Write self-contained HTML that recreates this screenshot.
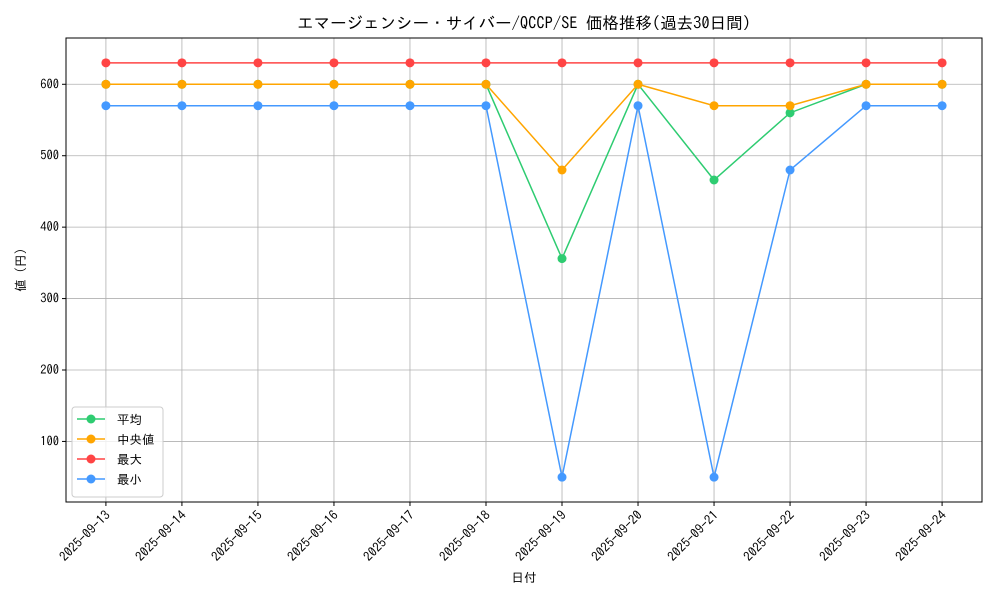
<!DOCTYPE html>
<html><head><meta charset="utf-8"><style>
body{margin:0;background:#fff}
svg text{font-family:"IPAGothic","Liberation Mono","Noto Sans CJK JP",monospace;fill:#000}
</style></head><body>
<svg id="c" width="1000" height="600"></svg>
<script>
const dates=["2025-09-13","2025-09-14","2025-09-15","2025-09-16","2025-09-17","2025-09-18","2025-09-19","2025-09-20","2025-09-21","2025-09-22","2025-09-23","2025-09-24"];
const avgVals=[600,600,600,600,600,600,356,600,466,560,600,600];
const medVals=[600,600,600,600,600,600,480,600,570,570,600,600];
const maxVals=[630,630,630,630,630,630,630,630,630,630,630,630];
const minVals=[570,570,570,570,570,570,50,570,50,480,570,570];
const yTicks=[100,200,300,400,500,600];
const seriesNames=["平均","中央値","最大","最小"];
const NS="http://www.w3.org/2000/svg";
const svg=document.getElementById('c');
const L=66,R=982,T=38,B=502;
const all=[].concat(avgVals,medVals,maxVals,minVals);
const mn=Math.min(...all),mx=Math.max(...all),pad=(mx-mn)*0.06;
const y0=mn-pad,y1=mx+pad;
function sx(i){const n=dates.length;const w=(R-L)/(n-1+1.05);return L+w*0.525+i*w;}
function sy(v){return B-(v-y0)/(y1-y0)*(B-T);}
function el(t,a,p){const e=document.createElementNS(NS,t);for(const k in a)e.setAttribute(k,a[k]);(p||svg).appendChild(e);return e;}
dates.forEach((d,i)=>{
const g=el('line',{x1:sx(i),x2:sx(i),y1:T,y2:B,stroke:'#b0b0b0','stroke-width':0.8});


el('line',{x1:sx(i),x2:sx(i),y1:B,y2:B+4,stroke:'#000'});
const t=el('text',{x:0,y:0,'font-size':13,'text-anchor':'end',transform:`translate(${sx(i)+5},${B+14}) rotate(-45)`});


t.textContent=d;
});
yTicks.forEach(v=>{
const g=el('line',{x1:L,x2:R,y1:sy(v),y2:sy(v),stroke:'#b0b0b0','stroke-width':0.8});


el('line',{x1:L-4,x2:L,y1:sy(v),y2:sy(v),stroke:'#000'});
const t=el('text',{x:L-7,y:sy(v)+4,'font-size':12.5,'text-anchor':'end'});


t.textContent=v;
});
const fr=el('rect',{x:L,y:T,width:R-L,height:B-T,fill:'none',stroke:'#000','stroke-width':1});


const series=[[avgVals,'#2ecc71'],[medVals,'#ffa500'],[maxVals,'#ff4444'],[minVals,'#4499ff']];
[0,1,2,3].forEach(k=>{
const [vals,col]=series[k];
const g=el('g',{});


el('polyline',{points:vals.map((v,i)=>sx(i)+','+sy(v)).join(' '),fill:'none',stroke:col,'stroke-width':1.5},g);
vals.forEach((v,i)=>{
const c=el('circle',{cx:sx(i),cy:sy(v),r:4.5,fill:col},g);


});
});
const lg=el('g',{});


el('rect',{x:72,y:407,width:91,height:90,rx:3,fill:'#fff','fill-opacity':0.8,stroke:'#ccc'},lg);
seriesNames.forEach((n,k)=>{
const y=419+k*20,col=series[k][1];
const e=el('g',{},lg);


el('line',{x1:77,x2:105,y1:y,y2:y,stroke:col,'stroke-width':1.5},e);
el('circle',{cx:91,cy:y,r:4.5,fill:col},e);
const t=el('text',{x:117,y:y+5,'font-size':12.5},e);t.textContent=n;
});
const ti=el('text',{x:524,y:29,'font-size':16.5,'text-anchor':'middle'});


ti.textContent='エマージェンシー・サイバー/QCCP/SE 価格推移(過去30日間)';
const xl=el('text',{x:524,y:582,'font-size':12.5,'text-anchor':'middle'});


xl.textContent='日付';
const yl=el('text',{x:0,y:0,'font-size':12.5,'text-anchor':'middle',transform:'translate(25,270) rotate(-90)'});


yl.textContent='値 (円)';
</script>
</body></html>
